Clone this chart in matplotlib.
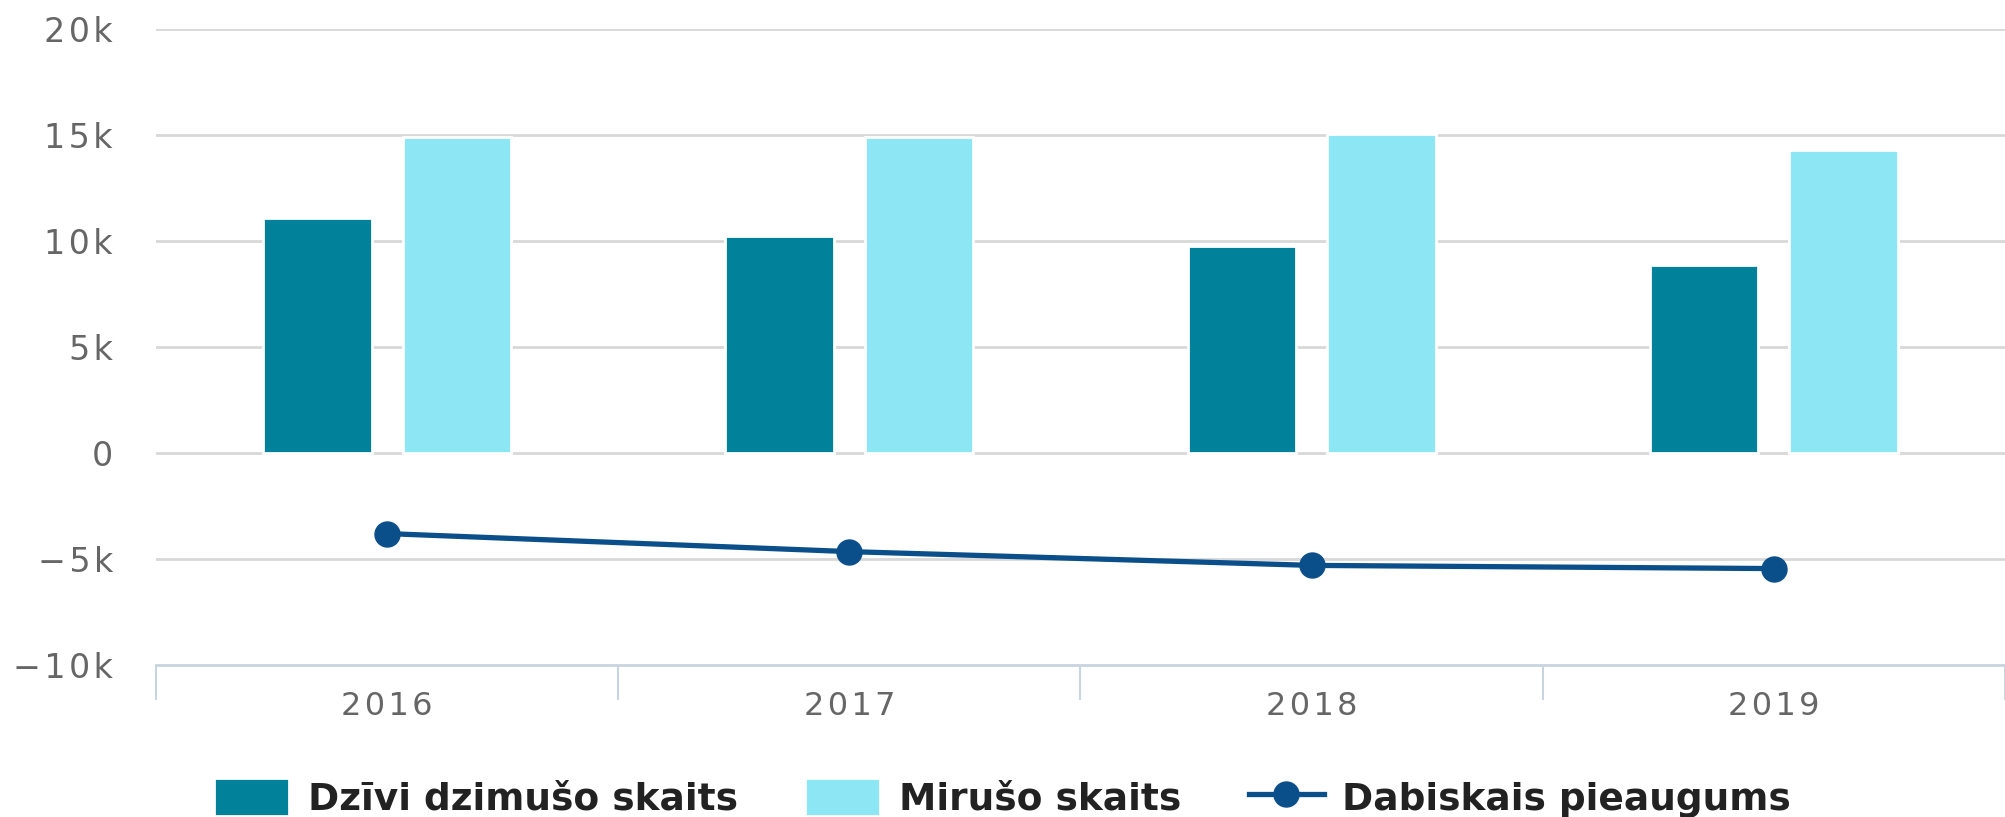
import matplotlib.pyplot as plt
import numpy as np
from matplotlib.ticker import FuncFormatter

# Data
years = ['2016', '2017', '2018', '2019']
births = [11100, 10250, 9750, 8880]
deaths = [14900, 14900, 15050, 14300]
natural = [-3800, -4650, -5300, -5450]
y_ticks = [-10000, -5000, 0, 5000, 10000, 15000, 20000]

c_birth = '#02829a'
c_death = '#8de6f4'
c_line = '#0b4f8a'
c_grid = '#d8d8d8'
c_text = '#666666'

fig = plt.figure(figsize=(20.05, 8.17), dpi=100)
ax = fig.add_axes([0.0778, 0.186, 0.9222, 0.7785])

x = np.arange(len(years))
w = 0.235
b1 = ax.bar(x - 0.151, births, width=w, color=c_birth, edgecolor='white', linewidth=2,
            label='Dzīvi dzimušo skaits', zorder=3)
b2 = ax.bar(x + 0.151, deaths, width=w, color=c_death, edgecolor='white', linewidth=2,
            label='Mirušo skaits', zorder=3)
ln, = ax.plot(x, natural, color=c_line, linewidth=3.8, marker='o', markersize=18,
              label='Dabiskais pieaugums', zorder=4)

ax.set_xlim(-0.5, len(years) - 0.5)
ax.set_ylim(-10000, 20000)
ax.set_yticks(y_ticks)
# spaced-out labels like the original
def fmt(v, p):
    s = '0' if v == 0 else ('\u2212' if v < 0 else '') + '%dk' % abs(v / 1000)
    return '\u200a'.join(s)
ax.yaxis.set_major_formatter(FuncFormatter(fmt))
for t in y_ticks[1:]:
    ax.axhline(t, color=c_grid, linewidth=2, zorder=1)

ax.set_xticks(x)
ax.set_xticklabels(['\u200a'.join(y) for y in years])
ax.set_xticks(np.arange(len(years) + 1) - 0.5, minor=True)
ax.tick_params(axis='x', which='major', length=0, pad=19, labelsize=23, labelcolor=c_text)
ax.tick_params(axis='x', which='minor', length=25, width=1.5, color='#c8d4e0')
ax.tick_params(axis='y', length=0, pad=31, labelsize=24, labelcolor=c_text)

for s in ['top', 'right', 'left']:
    ax.spines[s].set_visible(False)
ax.spines['bottom'].set_color('#c8d4e0')
ax.spines['bottom'].set_linewidth(2)

fig.legend([b1, b2, ln], [b1.get_label(), b2.get_label(), ln.get_label()],
           loc='lower center', bbox_to_anchor=(0.5, -0.042), ncol=3, frameon=False,
           prop={'weight': 'bold', 'size': 27}, handlelength=2.0, handleheight=1.2,
           columnspacing=1.8, handletextpad=0.5, labelcolor='#222222')

fig.savefig('out.png', dpi=100)
